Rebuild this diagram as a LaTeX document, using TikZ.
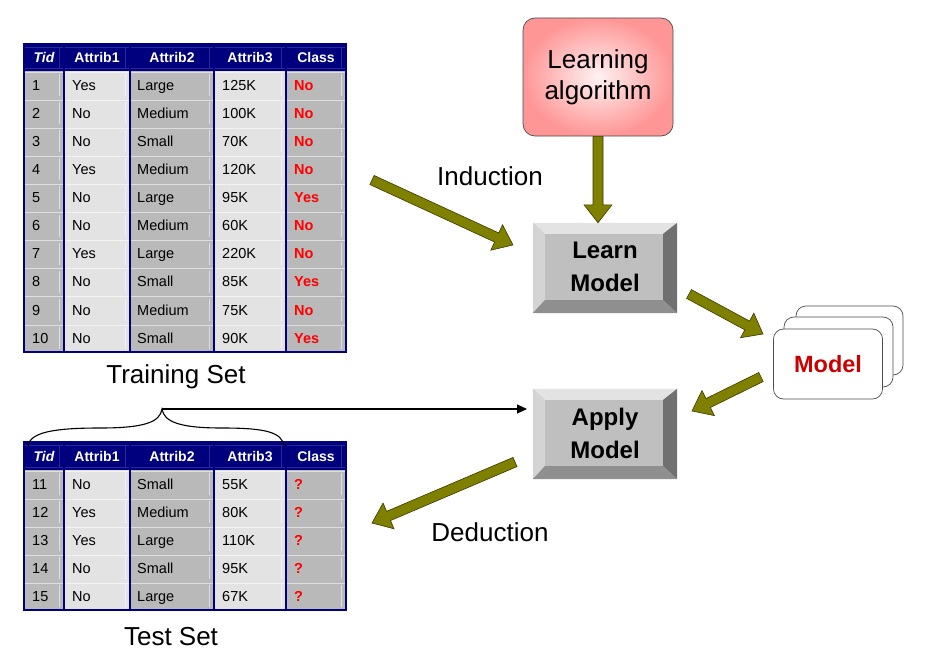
\documentclass[tikz,border=0pt]{standalone}
\usepackage{fontspec}
\setmainfont{Liberation Sans}
\usetikzlibrary{calc,arrows.meta}
\definecolor{olivearr}{HTML}{808000}
\definecolor{olivedk}{HTML}{3A3A00}
\definecolor{navyc}{HTML}{00007E}
\definecolor{navyln}{HTML}{2A2A96}
\definecolor{cdark}{HTML}{B9B9B9}
\definecolor{clight}{HTML}{E3E3E3}
\definecolor{redtxt}{HTML}{FF0000}
\definecolor{modelred}{HTML}{CC0000}
\definecolor{pinkout}{HTML}{FF9696}
\definecolor{pinkin}{HTML}{FFF2F2}
\newcommand\fatarrow[2]{%
  \coordinate (fa-c) at ($(#2)!18pt!(#1)$);
  \filldraw[fatarr] ($(#1)!5pt!90:(#2)$) -- ($(fa-c)!5pt!-90:(#1)$) -- ($(fa-c)!14pt!-90:(#1)$)
    -- (#2) -- ($(fa-c)!14pt!90:(#1)$) -- ($(fa-c)!5pt!90:(#1)$) -- ($(#1)!5pt!-90:(#2)$) -- cycle;}
\newcommand\bevelbox[1]{%
  \fill[bvface] (#1.north west) rectangle (#1.south east);
  \fill[bvtop] (#1.north west) -- (#1.north east) -- ($(#1.north east)+(-14,11)$) -- ($(#1.north west)+(12,11)$) -- cycle;
  \fill[bvleft] (#1.north west) -- ($(#1.north west)+(12,11)$) -- ($(#1.south west)+(12,-13)$) -- (#1.south west) -- cycle;
  \fill[bvright] (#1.north east) -- ($(#1.north east)+(-14,11)$) -- ($(#1.south east)+(-14,-13)$) -- (#1.south east) -- cycle;
  \fill[bvbot] (#1.south west) -- ($(#1.south west)+(12,-13)$) -- ($(#1.south east)+(-14,-13)$) -- (#1.south east) -- cycle;}
\newcommand\tablegrid[4]{% top, header bottom, row height, rows
  \pgfmathsetmacro\tbot{#2+#3*#4}
  \fill[cdark] (24,#2) rectangle (64,\tbot);
  \fill[clight] (64,#2) rectangle (130,\tbot);
  \fill[cdark] (130,#2) rectangle (214,\tbot);
  \fill[clight] (214,#2) rectangle (286,\tbot);
  \fill[cdark] (286,#2) rectangle (346,\tbot);
  \fill[navyc] (24,#1) rectangle (346,#2);
  \draw[hdhl] (24,{#1+3}) -- (346,{#1+3});
  \draw[hdhl] (24,{#2-3}) -- (346,{#2-3});
  \foreach \xr in {64,130,214,286,346} {\draw[hdhl] ({\xr-5},{#1+3}) -- ({\xr-5},{#2-3});}
  \foreach \k in {1,...,#4} {
    \pgfmathsetmacro\yt{#2+#3*(\k-1)}
    \draw[cellhl] (24,{\yt+1}) -- (346,{\yt+1});
    \foreach \xr in {64,130,214,286,346} {\draw[cellhl] ({\xr-5},{\yt+3}) -- ({\xr-5},{\yt+#3-3});}
  }
  \draw[navyc,line width=1.3] (24,#1) rectangle (346,\tbot);
  \foreach \xc in {64,130,214,286} {\draw[navyc,line width=1.3] (\xc,#1) -- (\xc,\tbot);}
}
\newcommand\tablehead[2]{% y centre, prefix
  \node[hdt] (#2-h1) at (44,#1) {\itshape Tid};
  \node[hdt] (#2-h2) at (97,#1) {Attrib1};
  \node[hdt] (#2-h3) at (172,#1) {Attrib2};
  \node[hdt] (#2-h4) at (250,#1) {Attrib3};
  \node[hdt] (#2-h5) at (316,#1) {Class};}
\begin{document}
\begin{tikzpicture}[x=1pt,y=-1pt,
  fatarr/.style={fill=olivearr,draw=olivedk,line width=0.6pt,line join=miter},
  bvface/.style={fill=black!25},
  bvtop/.style={fill=black!11},
  bvleft/.style={fill=black!17},
  bvright/.style={fill=black!56},
  bvbot/.style={fill=black!44},
  btn/.style={inner sep=0pt,minimum width=144pt,minimum height=90pt},
  btntext/.style={font=\fontsize{24}{33}\selectfont\bfseries,align=center,text=black},
  hdhl/.style={navyln,line width=0.6pt},
  cellhl/.style={white,opacity=0.55,line width=0.7pt},
  hdt/.style={font=\fontsize{14}{16}\selectfont\bfseries,text=white,inner sep=0pt,text height=10pt,text depth=0pt},
  cellt/.style={font=\fontsize{14.5}{17}\selectfont,anchor=west,inner sep=0pt,text height=10.4pt,text depth=0pt},
  clst/.style={font=\fontsize{14.5}{17}\selectfont\bfseries,anchor=west,inner sep=0pt,text height=10.4pt,text depth=0pt,text=redtxt},
  biglabel/.style={font=\fontsize{26}{31}\selectfont,inner sep=0pt},
  card/.style={draw=black!70,line width=0.7pt,fill=white,rounded corners=10pt}]
\useasboundingbox (0,0) rectangle (933,661);

% ---------- training table ----------
\tablegrid{44}{71}{28.1}{10}
\tablehead{57.5}{tr}
\foreach \i/\a/\b/\c/\d in {1/Yes/Large/125K/No,2/No/Medium/100K/No,3/No/Small/70K/No,
  4/Yes/Medium/120K/No,5/No/Large/95K/Yes,6/No/Medium/60K/No,7/Yes/Large/220K/No,
  8/No/Small/85K/Yes,9/No/Medium/75K/No,10/No/Small/90K/Yes} {
  \node[cellt] (tr-\i-t) at (32,{56.95+28.1*\i}) {\i};
  \node[cellt] (tr-\i-a) at (72,{56.95+28.1*\i}) {\a};
  \node[cellt] (tr-\i-b) at (137,{56.95+28.1*\i}) {\b};
  \node[cellt] (tr-\i-c) at (222,{56.95+28.1*\i}) {\c};
  \node[clst] (tr-\i-d) at (294,{56.95+28.1*\i}) {\d};
}
\node[biglabel] (trainlbl) at (176,377) {Training Set};

% ---------- test table ----------
\tablegrid{442}{470}{28}{5}
\tablehead{456}{te}
\foreach \i/\a/\b/\c [count=\n] in {11/No/Small/55K,12/Yes/Medium/80K,13/Yes/Large/110K,
  14/No/Small/95K,15/No/Large/67K} {
  \node[cellt] (te-\i-t) at (32,{456+28*\n}) {\i};
  \node[cellt] (te-\i-a) at (72,{456+28*\n}) {\a};
  \node[cellt] (te-\i-b) at (137,{456+28*\n}) {\b};
  \node[cellt] (te-\i-c) at (222,{456+28*\n}) {\c};
  \node[clst] (te-\i-d) at (294,{456+28*\n}) {?};
}
\node[biglabel] (testlbl) at (171,637) {Test Set};

% ---------- learning algorithm ----------
\node[draw=black!70,line width=0.7pt,rounded corners=12pt,inner sep=0pt,
  minimum width=150pt,minimum height=118pt,shading=radial,inner color=pinkin,outer color=pinkout] (algo) at (598,77) {};
\node[font=\fontsize{26}{31}\selectfont,align=center,inner sep=0pt] (algotxt) at (598,77) {Learning\\algorithm};

% ---------- buttons ----------
\node[btn] (learn) at (605,268) {};
\bevelbox{learn}
\node[btntext] (learntxt) at (605,267) {Learn\\Model};
\node[btn] (apply) at (605,434) {};
\bevelbox{apply}
\node[btntext] (applytxt) at (605,433) {Apply\\Model};

% ---------- model cards ----------
\node[card,minimum width=107pt,minimum height=69pt,inner sep=0pt] (card3) at (849.5,340.5) {};
\node[card,minimum width=109pt,minimum height=70pt,inner sep=0pt] (card2) at (838.5,352) {};
\node[card,minimum width=109pt,minimum height=70pt,inner sep=0pt,
  font=\fontsize{23.5}{27}\selectfont\bfseries,text=modelred] (model) at (828,364) {Model};

% ---------- fat arrows ----------
\coordinate (algoout) at (algo.south);
\coordinate (learnin) at (algo.south |- learn.north);
\fatarrow{algoout}{learnin}
\coordinate (indA) at (372,180);
\coordinate (indB) at (513,245);
\fatarrow{indA}{indB}
\coordinate (lmA) at (689,294);
\coordinate (lmB) at (763,334);
\fatarrow{lmA}{lmB}
\coordinate (maA) at (761,377);
\coordinate (maB) at (692,411);
\fatarrow{maA}{maB}
\coordinate (dedA) at (515,462);
\coordinate (dedB) at (372,523);
\fatarrow{dedA}{dedB}

\node[biglabel] (indlbl) at (490,176) {Induction};
\node[biglabel] (dedlbl) at (490,532) {Deduction};

% ---------- brace and thin arrow ----------
\coordinate (bracetop) at (162,409);
\coordinate (applyin) at (527,409);
\draw[black,line width=1.1pt] (28,446) .. controls (30,432) and (55,428) .. (100,428)
  .. controls (145,428) and (160,422) .. (bracetop)
  .. controls (164,422) and (180,428) .. (222,428)
  .. controls (265,428) and (282,432) .. (284,446);
\draw[black,line width=1.1pt,-{Triangle[length=10pt,width=9pt]}] (bracetop) -- (applyin);
\end{tikzpicture}
\end{document}
